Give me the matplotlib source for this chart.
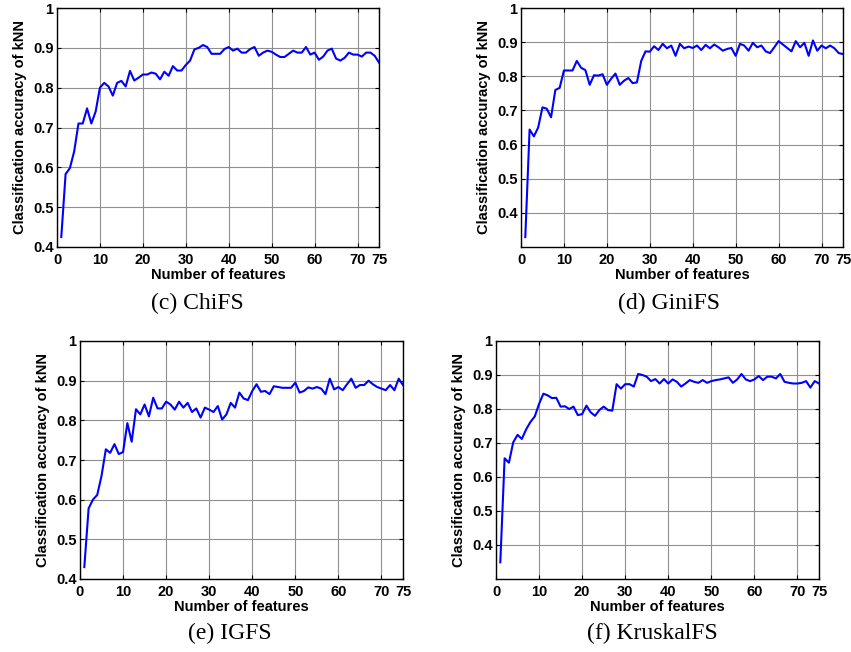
"""Four kNN accuracy curves vs number of selected features (ChiFS, GiniFS, IGFS, KruskalFS)."""

import matplotlib

matplotlib.use("Agg")
import matplotlib.pyplot as plt

n_features = list(range(1, 76))

chi_acc = [
    0.425, 0.583, 0.598, 0.640, 0.710, 0.710, 0.748, 0.710, 0.740, 0.800,
    0.812, 0.803, 0.780, 0.812, 0.817, 0.803, 0.842, 0.818, 0.825, 0.833,
    0.833, 0.838, 0.835, 0.821, 0.840, 0.830, 0.854, 0.843, 0.843, 0.857,
    0.868, 0.896, 0.900, 0.907, 0.902, 0.885, 0.885, 0.885, 0.897, 0.902,
    0.893, 0.898, 0.888, 0.888, 0.897, 0.902, 0.880, 0.888, 0.893, 0.890,
    0.883, 0.877, 0.877, 0.885, 0.893, 0.888, 0.888, 0.902, 0.883, 0.888,
    0.870, 0.878, 0.893, 0.898, 0.873, 0.868, 0.875, 0.888, 0.883, 0.883,
    0.878, 0.888, 0.888, 0.880, 0.863,
]

gini_acc = [
    0.329, 0.644, 0.624, 0.650, 0.709, 0.705, 0.680, 0.760, 0.766, 0.817,
    0.817, 0.817, 0.845, 0.825, 0.818, 0.775, 0.803, 0.802, 0.806, 0.775,
    0.793, 0.808, 0.775, 0.787, 0.795, 0.780, 0.782, 0.845, 0.873, 0.872,
    0.888, 0.877, 0.895, 0.882, 0.890, 0.860, 0.895, 0.882, 0.887, 0.883,
    0.890, 0.877, 0.892, 0.882, 0.893, 0.885, 0.875, 0.880, 0.883, 0.860,
    0.895, 0.890, 0.875, 0.898, 0.885, 0.890, 0.873, 0.868, 0.885, 0.903,
    0.893, 0.883, 0.873, 0.903, 0.885, 0.898, 0.860, 0.905, 0.875, 0.890,
    0.882, 0.890, 0.882, 0.868, 0.865,
]

ig_acc = [
    0.430, 0.578, 0.600, 0.612, 0.660, 0.727, 0.718, 0.740, 0.715, 0.720,
    0.793, 0.746, 0.828, 0.815, 0.840, 0.810, 0.857, 0.830, 0.830, 0.847,
    0.840, 0.827, 0.847, 0.832, 0.844, 0.821, 0.830, 0.807, 0.832, 0.827,
    0.821, 0.836, 0.802, 0.815, 0.844, 0.832, 0.870, 0.855, 0.851, 0.874,
    0.891, 0.872, 0.874, 0.866, 0.886, 0.884, 0.882, 0.882, 0.882, 0.895,
    0.870, 0.874, 0.883, 0.880, 0.884, 0.880, 0.866, 0.905, 0.878, 0.884,
    0.876, 0.891, 0.905, 0.882, 0.889, 0.889, 0.900, 0.891, 0.884, 0.880,
    0.876, 0.889, 0.876, 0.905, 0.889,
]

kruskal_acc = [
    0.349, 0.655, 0.642, 0.702, 0.724, 0.712, 0.740, 0.762, 0.778, 0.815,
    0.845, 0.840, 0.832, 0.833, 0.807, 0.808, 0.800, 0.807, 0.782, 0.785,
    0.810, 0.790, 0.780, 0.797, 0.807, 0.797, 0.795, 0.873, 0.860, 0.873,
    0.873, 0.866, 0.903, 0.900, 0.895, 0.882, 0.888, 0.875, 0.888, 0.875,
    0.887, 0.880, 0.866, 0.875, 0.885, 0.880, 0.877, 0.885, 0.877, 0.882,
    0.885, 0.887, 0.890, 0.893, 0.877, 0.887, 0.903, 0.887, 0.882, 0.887,
    0.897, 0.885, 0.895, 0.895, 0.890, 0.903, 0.880, 0.877, 0.875, 0.875,
    0.877, 0.882, 0.863, 0.882, 0.875,
]

captions = ["(c) ChiFS", "(d) GiniFS", "(e) IGFS", "(f) KruskalFS"]
series = [chi_acc, gini_acc, ig_acc, kruskal_acc]
y_lows = [0.4, 0.3, 0.4, 0.3]

x_ticks = [0, 10, 20, 30, 40, 50, 60, 70, 75]
y_ticks = [0.4, 0.5, 0.6, 0.7, 0.8, 0.9, 1.0]
y_tick_labels = ["0.4", "0.5", "0.6", "0.7", "0.8", "0.9", "1"]

W, H = 851, 652
# axes boxes in pixels: left, top, right, bottom
boxes = [
    (57, 8, 379, 247),
    (521, 8, 843, 247),
    (80, 341, 403, 579),
    (496, 341, 819, 579),
]
caption_pos = [(197, 303), (669, 303), (230, 633), (652, 633)]

sans = ["Liberation Sans", "DejaVu Sans"]
serif = ["Liberation Serif", "DejaVu Serif"]

fig = plt.figure(figsize=(W / 100, H / 100), dpi=100)

for acc, cap, ylo, box, cpos in zip(series, captions, y_lows, boxes, caption_pos):
    l, t, r, b = box
    ax = fig.add_axes([l / W, 1 - b / H, (r - l) / W, (b - t) / H])
    ax.plot(n_features, acc, color="#0000ff", linewidth=1.5)
    ax.set_xlim(0, 75)
    ax.set_ylim(ylo, 1.0)
    ax.set_xticks(x_ticks)
    ax.set_yticks(y_ticks)
    ax.set_yticklabels(y_tick_labels)
    ax.grid(True, color="#909090", linewidth=0.8)
    ax.tick_params(direction="in", top=True, right=True, length=3, width=0.8,
                   labelsize=10.5)
    ax.tick_params(axis="x", pad=4)
    ax.tick_params(axis="y", pad=2.5)
    for lab in ax.get_xticklabels() + ax.get_yticklabels():
        lab.set_fontweight("bold")
        lab.set_family(sans)
    for sp in ax.spines.values():
        sp.set_linewidth(1.0)
    ax.set_xlabel("Number of features", fontsize=10.5, fontweight="bold",
                  family=sans, labelpad=1)
    ax.set_ylabel("Classification accuracy of kNN", fontsize=10.5,
                  fontweight="bold", family=sans, labelpad=4)
    fig.text(cpos[0] / W, 1 - cpos[1] / H, cap, ha="center", va="center",
             fontsize=17, family=serif)

fig.savefig("out.png", dpi=100)
